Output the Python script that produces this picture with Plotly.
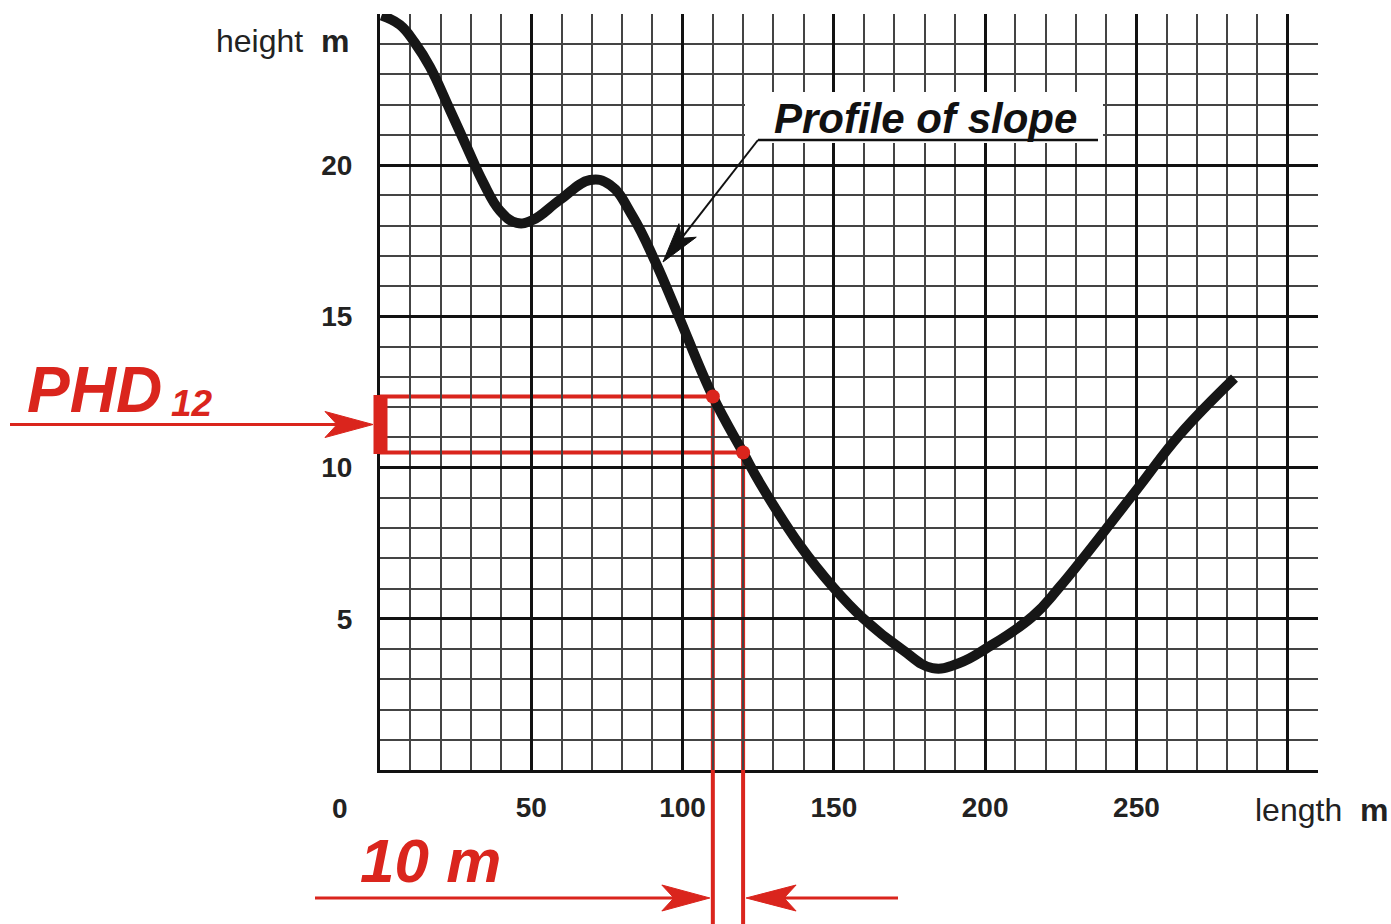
import plotly.graph_objects as go

# ---------------- data ----------------
length_m = [0.5, 6.6, 11.5, 16.5, 23.1, 28.7, 34, 39.6, 45.2, 50.5, 59.4, 69.4, 76, 83.6, 91, 98.3,
            110, 120, 125.5, 138.7, 150, 159.5, 172.7, 182.6, 191.5, 200.5, 215.7, 224.6, 250, 264.2, 282.4]
height_m = [24.95, 24.64, 24.05, 23.25, 21.83, 20.6, 19.45, 18.5, 18.09, 18.19, 18.85, 19.51, 19.35, 18.29, 16.8, 15.1,
            12.35, 10.5, 9.5, 7.44, 6.02, 5.03, 3.97, 3.37, 3.54, 4.03, 5.08, 6.05, 9.26, 11.08, 12.96]

phd_x = [110, 120]        # points bounding the 10 m horizontal distance
phd_y = [12.35, 10.5]     # corresponding heights

x_ticks = [50, 100, 150, 200, 250]
y_ticks = [5, 10, 15, 20]
x_range = [0, 310]
y_range = [0, 25]

# ---------------- layout geometry ----------------
W, H = 1391, 924
ML, MR, MT, MB = 380, 73, 14, 154
PW, PH = W - ML - MR, H - MT - MB
RED = "#da251d"
FONT = "Liberation Sans, Arial, sans-serif"


def PX(px):  # pixel -> paper x
    return (px - ML) / PW


def PY(py):  # pixel -> paper y
    return (H - MB - py) / PH


def DX(x):  # data -> paper x
    return (x - x_range[0]) / (x_range[1] - x_range[0])


def DY(y):
    return (y - y_range[0]) / (y_range[1] - y_range[0])


def arrow_head(tip_x, tip_y, dx, dy, length, half, notch):
    """notched arrow head (paper coords computed from pixels). dx,dy unit direction of arrow."""
    nx, ny = -dy, dx
    bx, by = tip_x - dx * length, tip_y - dy * length
    p1 = (bx + nx * half, by + ny * half)
    p2 = (tip_x - dx * (length - notch), tip_y - dy * (length - notch))
    p3 = (bx - nx * half, by - ny * half)
    pts = [(tip_x, tip_y), p1, p2, p3]
    return "M " + " L ".join(f"{PX(a):.5f},{PY(b):.5f}" for a, b in pts) + " Z"


fig = go.Figure()

fig.add_trace(go.Scatter(
    x=length_m, y=height_m, mode="lines",
    line=dict(color="#161616", width=10, shape="spline", smoothing=1.2),
    hoverinfo="skip", showlegend=False,
))

fig.add_trace(go.Scatter(
    x=phd_x, y=phd_y, mode="markers",
    marker=dict(color=RED, size=14),
    hoverinfo="skip", showlegend=False,
))

shapes = []
y_lo, y_hi = min(phd_y), max(phd_y)
# red horizontal lines of the PHD band
for xv, yv in zip(phd_x, phd_y):
    shapes.append(dict(type="line", xref="x", yref="y", x0=x_range[0], x1=xv, y0=yv, y1=yv,
                       line=dict(color=RED, width=4), layer="below"))
    # vertical line down to the axis, and then below the axis
    shapes.append(dict(type="line", xref="x", yref="y", x0=xv, x1=xv, y0=yv, y1=y_range[0],
                       line=dict(color=RED, width=4), layer="below"))
    shapes.append(dict(type="line", xref="x", yref="paper", x0=xv, x1=xv, y0=0, y1=PY(H + 5),
                       line=dict(color=RED, width=4), layer="above"))
# thick bar at the y axis
shapes.append(dict(type="rect", xref="paper", yref="y", x0=PX(375), x1=PX(386), y0=y_lo, y1=y_hi,
                   fillcolor=RED, line=dict(color=RED, width=3), layer="above"))

# PHD arrow from the left
y_mid_px = H - MB - DY((y_lo + y_hi) / 2) * PH
shapes.append(dict(type="line", xref="paper", yref="paper", x0=PX(10), x1=PX(345),
                   y0=PY(y_mid_px), y1=PY(y_mid_px), line=dict(color=RED, width=3)))
shapes.append(dict(type="path", xref="paper", yref="paper",
                   path=arrow_head(373, y_mid_px, 1, 0, 48, 13, 12),
                   fillcolor=RED, line=dict(color=RED, width=1)))

# 10 m arrows below
x_left_px = ML + DX(phd_x[0]) * PW
x_right_px = ML + DX(phd_x[1]) * PW
ya = 898
shapes.append(dict(type="line", xref="paper", yref="paper", x0=PX(315), x1=PX(x_left_px - 20),
                   y0=PY(ya), y1=PY(ya), line=dict(color=RED, width=3)))
shapes.append(dict(type="path", xref="paper", yref="paper",
                   path=arrow_head(x_left_px - 3, ya, 1, 0, 48, 13, 12),
                   fillcolor=RED, line=dict(color=RED, width=1)))
shapes.append(dict(type="line", xref="paper", yref="paper", x0=PX(x_right_px + 20), x1=PX(898),
                   y0=PY(ya), y1=PY(ya), line=dict(color=RED, width=3)))
shapes.append(dict(type="path", xref="paper", yref="paper",
                   path=arrow_head(x_right_px + 3, ya, -1, 0, 50, 13, 12),
                   fillcolor=RED, line=dict(color=RED, width=1)))

# "Profile of slope" label: white box, underline, leader arrow
shapes.append(dict(type="rect", xref="paper", yref="paper", x0=PX(745), x1=PX(1103),
                   y0=PY(143), y1=PY(92), fillcolor="white", line=dict(width=0), layer="above"))
shapes.append(dict(type="line", xref="paper", yref="paper", x0=PX(758), x1=PX(1098),
                   y0=PY(140), y1=PY(140), line=dict(color="#111", width=2.5), layer="above"))
tip = (663, 262)
start = (758, 140)
ddx, ddy = tip[0] - start[0], tip[1] - start[1]
dl = (ddx ** 2 + ddy ** 2) ** 0.5
ux, uy = ddx / dl, ddy / dl
shapes.append(dict(type="line", xref="paper", yref="paper", x0=PX(start[0]), y0=PY(start[1]),
                   x1=PX(tip[0] - ux * 30), y1=PY(tip[1] - uy * 30),
                   line=dict(color="#111", width=2), layer="above"))
shapes.append(dict(type="path", xref="paper", yref="paper",
                   path=arrow_head(tip[0], tip[1], ux, uy, 40, 11, 10),
                   fillcolor="#111", line=dict(color="#111", width=1), layer="above"))

annotations = [
    dict(text="<b><i>Profile of slope</i></b>", xref="paper", yref="paper", x=PX(772), y=PY(118),
         xanchor="left", yanchor="middle", showarrow=False,
         font=dict(family=FONT, size=42, color="#111")),
    dict(text="<b><i>PHD</i></b>", xref="paper", yref="paper", x=PX(25), y=PY(390),
         xanchor="left", yanchor="middle", showarrow=False,
         font=dict(family=FONT, size=64, color=RED)),
    dict(text="<b><i>12</i></b>", xref="paper", yref="paper", x=PX(169), y=PY(404),
         xanchor="left", yanchor="middle", showarrow=False,
         font=dict(family=FONT, size=37, color=RED)),
    dict(text="<b><i>10 m</i></b>", xref="paper", yref="paper", x=PX(358), y=PY(860),
         xanchor="left", yanchor="middle", showarrow=False,
         font=dict(family=FONT, size=62, color=RED)),
    dict(text="height\u00a0\u00a0<b>m</b>", xref="paper", yref="paper", x=PX(351), y=PY(41),
         xanchor="right", yanchor="middle", showarrow=False,
         font=dict(family=FONT, size=32, color="#222")),
    dict(text="length\u00a0\u00a0<b>m</b>", xref="paper", yref="paper", x=PX(1253), y=PY(810),
         xanchor="left", yanchor="middle", showarrow=False,
         font=dict(family=FONT, size=32, color="#222")),
    dict(text="<b>0</b>", xref="paper", yref="paper", x=PX(340), y=PY(808),
         xanchor="center", yanchor="middle", showarrow=False,
         font=dict(family=FONT, size=28, color="#222")),
]

fig.update_layout(
    width=W, height=H,
    margin=dict(l=ML, r=MR, t=MT, b=MB, pad=0),
    paper_bgcolor="white", plot_bgcolor="white",
    showlegend=False,
    shapes=shapes, annotations=annotations,
    xaxis=dict(
        range=x_range, tickmode="array",
        tickvals=x_ticks + [300], ticktext=[f"<b>{v}</b>" for v in x_ticks] + [""],
        tickfont=dict(family=FONT, size=28, color="#222"),
        ticks="", ticklabelstandoff=10,
        showgrid=True, gridcolor="#111", gridwidth=3,
        minor=dict(tickmode="linear", tick0=0, dtick=10, showgrid=True, gridcolor="#444", gridwidth=1.5),
        showline=True, linecolor="#111", linewidth=3, zeroline=False, fixedrange=True,
    ),
    yaxis=dict(
        range=y_range, tickmode="array",
        tickvals=y_ticks + [25], ticktext=[f"<b>{v}</b>" for v in y_ticks] + [""],
        tickfont=dict(family=FONT, size=28, color="#222"),
        ticks="", ticklabelstandoff=19,
        showgrid=True, gridcolor="#111", gridwidth=3,
        minor=dict(tickmode="linear", tick0=0, dtick=1, showgrid=True, gridcolor="#444", gridwidth=1.5),
        showline=True, linecolor="#111", linewidth=3, zeroline=False, fixedrange=True,
    ),
)

fig.write_html("out.html", config={"displayModeBar": False},
               post_script="document.body.style.margin='0px';document.body.style.overflow='hidden';")
